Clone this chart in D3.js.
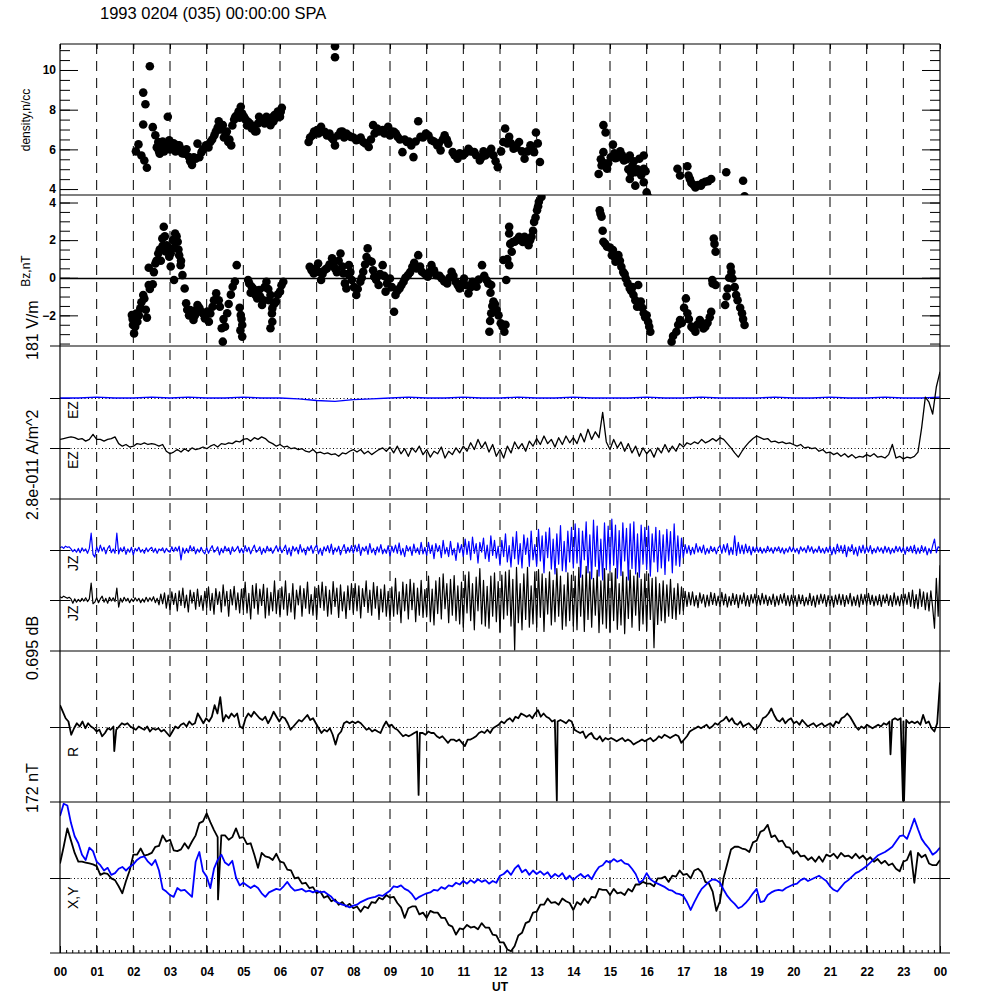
<!DOCTYPE html>
<html>
<head>
<meta charset="utf-8">
<script src="https://cdn.jsdelivr.net/npm/d3@7"></script>
<style>
body { margin: 0; background: #fff; }
text { font-family: "Liberation Sans", Arial, sans-serif; }
</style>
</head>
<body>
<div id="chart"></div>
<script>
// ---- data ----
const title = "1993 0204 (035) 00:00:00 SPA";
const hourTicks = d3.range(0, 25);

// density (n/cc), scatter
const densHours = [2.07,2.14,2.22,2.30,2.37,2.27,2.27,2.33,2.45,2.53,2.94,2.60,2.68,2.76,2.72,2.88,2.98,3.06,3.21,3.29,3.40,3.52,3.60,3.70,3.75,3.86,3.98,4.10,4.21,4.33,4.44,4.52,4.59,4.67,4.78,4.87,4.93,5.02,5.13,5.23,5.36,5.43,5.54,5.63,5.74,5.85,5.94,6.05,6.00,
  6.78,6.89,7.01,7.12,7.22,7.35,7.50,7.50,7.50,7.65,7.81,7.93,8.08,8.27,8.42,8.54,8.65,8.80,8.95,9.11,9.21,9.34,9.46,9.64,9.77,9.83,9.98,10.13,10.29,10.38,10.49,10.59,
  10.71,10.84,10.99,11.14,11.30,11.45,11.60,11.76,11.94,12.09,12.14,12.25,12.37,12.52,12.67,12.83,12.98,13.09,12.93,
  14.82,14.88,15.08,14.82,14.77,14.69,14.92,15.15,15.28,15.38,15.54,15.61,15.69,15.80,15.92,15.92,15.54,15.69,15.92,16.00,16.03,
  16.84,16.91,17.11,17.14,17.22,17.33,17.48,17.60,17.76,18.17,18.63,18.67,
  2.64,2.70,2.80,2.84,2.92,3.00,3.10,3.15,3.25,3.33,3.45,3.55,3.65,3.80,3.90,4.05,4.15,
  4.25,4.30,4.38,4.47,4.55,4.62,4.70,4.75,4.82,4.90,4.97,5.06,5.10,5.18,5.28,5.32,5.40,5.48,5.58,5.68,5.78,5.82,5.90,5.98,6.02,
  6.82,6.93,7.05,7.16,7.28,7.40,7.45,7.58,7.70,7.75,7.87,8.00,8.12,8.20,8.33,8.48,8.58,8.70,8.85,9.00,9.05,9.16,9.27,9.40,9.52,9.58,9.70,9.90,10.05,10.20,10.33,10.44,10.55,
  10.76,10.90,11.05,11.20,11.35,11.50,11.55,11.68,11.82,11.88,12.03,12.20,12.30,12.45,12.60,12.75,12.88,13.03,
  14.75,14.85,14.95,15.02,15.12,15.22,15.33,15.45,15.50,15.58,15.65,15.75,15.85,15.97,
  17.18,17.28,17.40,17.52,17.68];
const densValues = [5.90,6.25,5.69,5.44,5.07,7.25,8.86,8.27,10.19,7.12,7.64,6.71,6.37,6.20,5.78,6.20,6.46,6.12,6.20,6.03,5.78,5.61,5.22,5.53,6.29,5.86,6.20,6.37,6.71,7.42,7.22,6.80,6.37,6.20,7.64,7.90,8.15,7.64,7.39,7.05,6.92,7.64,7.47,7.64,7.22,7.73,7.90,8.10,7.64,
  6.37,6.71,6.97,7.14,6.88,6.80,6.20,10.64,11.20,6.88,6.80,6.63,6.46,6.37,6.12,7.22,7.05,6.97,7.14,6.88,6.63,5.86,6.37,5.61,7.42,6.63,6.80,6.46,6.20,5.95,6.71,6.29,
  5.86,5.53,5.69,6.03,5.86,5.44,5.69,6.03,5.10,6.37,7.05,6.63,6.03,6.37,5.53,6.20,6.85,5.36,5.86,
  7.22,6.85,6.24,5.86,5.19,4.76,5.02,5.56,5.90,5.44,5.69,5.19,4.85,5.53,5.69,5.02,4.51,4.17,4.34,3.83,3.63,
  5.02,4.68,5.15,4.68,4.31,4.08,4.17,4.37,4.51,4.85,4.42,3.63,
  6.1,5.9,6.4,5.9,6.3,6.0,6.3,5.9,6.2,5.8,6.0,5.4,5.6,5.6,6.0,6.1,6.5,
  6.9,7.1,7.0,6.6,6.9,6.5,7.2,7.5,7.7,7.6,7.8,7.5,7.2,7.3,7.1,6.9,7.3,7.5,7.3,7.4,7.6,7.4,7.6,7.8,7.9,
  6.6,6.9,6.8,6.9,6.7,6.6,6.5,6.7,6.9,6.6,6.7,6.6,6.5,6.6,6.3,6.5,6.8,6.9,6.8,6.7,6.9,6.8,6.5,6.5,6.4,6.2,6.4,6.6,6.7,6.4,6.3,6.5,6.5,
  5.7,5.8,5.8,5.9,5.7,5.6,5.9,5.8,5.7,5.4,5.9,6.3,6.3,6.1,5.9,5.9,6.0,6.3,
  5.5,5.3,5.3,5.6,5.8,5.6,5.7,5.5,5.0,4.8,5.4,5.0,4.7,4.9,
  4.5,4.2,4.2,4.3,4.4];

// Bz (nT), scatter
const bzHours = [1.96,1.99,2.02,2.11,2.19,2.27,2.37,2.42,2.53,2.42,2.60,2.68,2.79,2.83,2.91,2.98,3.14,3.21,3.25,3.29,3.11,3.34,3.40,
  3.44,3.55,3.64,3.75,3.86,3.95,4.06,4.16,4.26,4.36,4.41,4.44,4.56,4.71,4.82,4.93,4.97,4.97,
  5.13,5.23,5.33,5.43,5.51,5.63,5.74,5.79,5.74,5.89,6.00,6.09,5.79,
  6.81,6.92,7.04,7.12,7.22,7.42,7.50,7.65,7.73,7.81,7.88,7.96,8.08,8.19,8.27,8.39,8.50,8.57,8.69,8.80,8.88,9.00,9.11,9.15,9.26,9.37,9.49,9.61,9.77,9.87,10.03,10.13,10.26,
  10.41,10.56,10.68,10.79,10.90,11.02,11.14,11.25,11.36,11.51,11.63,
  11.76,11.82,11.76,11.71,11.91,12.02,12.12,12.17,
  12.09,12.25,12.32,12.25,12.25,12.40,12.52,12.67,12.78,12.86,12.93,13.01,13.06,13.13,
  14.72,14.77,14.82,14.92,15.08,15.15,15.23,15.31,15.43,15.54,15.64,15.74,15.84,15.92,16.04,16.10,15.77,
  16.68,16.81,16.91,17.07,17.11,17.22,17.33,17.45,17.60,17.76,17.83,17.88,17.79,17.88,18.14,18.21,18.29,18.34,18.44,18.60,18.67,
  1.98,2.05,2.08,2.15,2.22,2.30,2.34,2.45,
  2.56,2.63,2.72,2.75,2.80,2.86,2.88,2.95,3.02,3.08,3.12,3.18,3.23,3.30,3.02,
  3.47,3.52,3.60,3.68,3.72,3.80,3.90,3.98,4.02,4.10,4.20,
  4.33,4.46,4.50,4.60,4.66,4.77,4.90,4.95,4.92,
  5.16,5.20,5.28,5.38,5.46,5.55,5.58,5.68,5.70,5.78,5.84,5.94,6.04,
  6.86,6.98,7.08,7.16,7.28,7.35,7.46,7.55,7.60,7.70,7.77,7.85,7.92,8.02,8.12,8.23,8.32,8.36,8.44,8.54,8.62,8.73,8.84,8.92,9.05,9.20,9.31,9.42,9.55,9.66,9.72,9.82,9.95,10.08,10.20,
  10.35,10.48,10.62,10.73,10.85,10.96,11.08,11.20,11.30,11.42,11.57,11.68,
  11.74,11.79,11.73,11.86,11.96,12.07,12.15,
  12.20,12.28,12.35,12.45,12.58,12.62,12.72,12.82,12.90,12.97,13.04,
  14.74,14.80,14.87,15.00,15.05,15.12,15.20,15.27,15.36,15.40,15.48,15.58,15.61,15.69,15.80,15.88,15.96,16.00,16.07,
  16.72,16.86,16.96,17.02,17.15,17.27,17.38,17.50,17.55,17.66,17.72,
  17.85,17.80,18.18,18.25,18.31,18.40,18.48,18.55,18.63];
const bzValues = [-1.98,-2.51,-2.96,-2.34,-1.63,-0.92,-2.12,-0.39,-0.35,0.53,0.76,1.29,2.09,2.71,1.73,1.12,2.35,1.91,1.20,0.67,-0.12,0.14,-0.57,
  -1.36,-1.72,-2.25,-1.45,-1.81,-2.16,-2.34,-1.54,-0.83,-1.54,-2.69,-3.40,-1.89,-0.48,0.67,-1.98,-2.51,-3.13,
  -0.12,-0.48,-0.92,-0.65,-1.45,-0.21,-0.92,-1.63,-2.69,-1.27,-0.74,-0.21,-2.34,
  0.58,0.23,0.76,-0.12,0.41,1.03,0.50,1.29,0.23,-0.57,0.67,-0.12,-0.92,-0.21,0.32,1.56,0.85,0.05,-0.39,0.67,-0.74,-0.04,-1.81,-0.92,-0.57,-0.21,0.14,0.58,1.20,0.32,0.05,0.67,0.14,
  -0.04,-0.30,0.32,-0.21,-0.57,-0.04,-0.83,-0.21,-0.48,0.67,-0.12,
  -0.39,-1.27,-1.89,-2.87,-1.72,-2.42,-2.87,-0.12,
  0.94,0.67,1.38,2.35,2.71,1.91,2.18,2.18,1.73,2.18,2.97,3.59,4.04,4.30,
  3.59,3.24,1.91,1.65,1.47,0.85,1.20,0.58,-0.04,-0.57,-0.92,-1.54,-1.27,-1.89,-2.34,-2.87,-0.39,
  -3.40,-2.87,-2.25,-1.10,-1.89,-2.60,-2.87,-2.25,-2.60,-1.81,2.09,1.38,-0.12,-0.39,-1.45,-0.57,0.58,-0.04,-0.92,-1.89,-2.51,
  -2.2,-2.6,-1.9,-2.0,-1.3,-1.1,-1.7,-0.6,
  0.3,0.9,1.5,0.9,1.7,2.2,1.4,1.6,1.3,2.0,1.6,2.2,1.5,0.9,0.6,
  -1.7,-2.0,-1.8,-2.0,-1.7,-1.6,-1.9,-2.0,-1.8,-1.9,-1.2,
  -1.2,-2.2,-2.6,-1.4,-0.9,-0.2,-1.6,-2.2,-2.8,
  -0.3,-0.8,-0.6,-1.1,-1.0,-1.2,-0.5,-0.6,-1.2,-1.9,-1.4,-0.9,-0.4,
  0.4,0.5,0.3,0.2,0.5,0.7,0.8,0.3,0.9,0.6,-0.3,0.2,0.3,-0.5,-0.6,0.0,0.7,1.1,0.9,0.4,-0.1,0.2,0.1,-0.3,-0.5,-0.7,-0.4,0.0,0.3,0.8,0.5,0.6,0.2,0.3,0.4,
  0.1,-0.2,0.0,0.1,-0.4,-0.3,-0.4,-0.5,-0.3,-0.1,0.1,-0.3,
  -0.8,-1.5,-2.3,-1.4,-2.0,-2.6,-2.5,
  1.0,1.8,1.9,2.0,2.1,1.9,2.0,2.0,2.5,3.2,3.8,
  3.4,2.5,1.8,1.6,1.2,1.1,0.9,0.9,0.3,0.2,-0.3,-0.7,-0.5,-1.2,-1.5,-1.6,-2.1,-2.0,-2.6,
  -3.1,-2.5,-2.4,-1.6,-2.2,-2.7,-2.5,-2.4,-2.7,-2.4,-2.1,
  1.8,-0.3,-1.0,0.0,0.3,-0.5,-1.2,-1.6,-2.2];

// EZ (V/m), deviations from each trace's baseline; black every 0.1 h, blue every 0.5 h
const ezBlack = [10,11,12,13,12,10,11,8,10,16,10,
  10,8,10,11,13,5,2,4,1,2, 5,4,6,4,5,4,2,4,-4,-7, -5,-2,-5,-1,-4,0,-2,-1,1,-1, 2,4,1,5,4,6,5,8,7,10,
  11,8,12,10,13,11,7,5,2,4, 1,2,-1,0,-2,-1,-4,-5,-2,-6, -5,-7,-6,-8,-7,-10,-6,-7,-4,-2, -5,-2,-7,-4,-8,-5,-2,0,-4,1,
  -6,2,-7,-1,-10,0,-5,2,-8,-2, -11,-4,-7,1,-12,-4,-8,0,-6,2, -4,6,-2,10,0,7,-5,4,-10,-2, -12,2,-6,7,-1,5,-4,8,2,11,
  4,14,5,10,1,12,4,14,6,12, 5,17,7,22,10,19,12,42,7,-2, 10,0,7,-4,5,-6,2,-10,0,-7, -2,-11,0,-6,4,-5,2,-4,5,1,
  6,4,7,5,10,6,8,11,8,12, 10,5,0,-6,-11,-4,2,7,11,14, 12,10,11,7,8,6,7,5,6,4, 2,4,0,1,-1,0,-4,-2,-6,-5,
  -8,-6,-10,-7,-11,-8,-12,-10,-11,-8, -10,-7,-11,-10,-12,-8,4,-12,-10,-13, -11,-12,-10,-5,24,60,54,40,72,90];
const ezBlue = [0,0,1,0,0,1,0,1,0,0,1,0,0,-1,-3,-4,-2,-1,0,1,0,0,1,0,0,1,0,0,1,0,0,0,1,0,0,1,0,0,0,1,0,0,1,0,0,1,0,0,1];

// JZ (1e-13 A/m^2), deviations, every 0.05 h
const jzBlue = [
  4,6,3,7,5,6,2,-3,1,-4,3,-5,4,-2,2,-6,3,31,-8,-13,
  6,-4,9,-2,5,-7,3,8,-5,2,-6,31,-7,4,-3,6,-8,2,-4,5,
  -9,3,-2,5,-4,1,-6,4,-3,2,5,-4,3,-6,2,-1,4,-5,3,-2,
  -4,6,-3,5,-2,7,-18,4,-6,3,-5,8,-2,6,-7,2,-4,5,-3,-7,
  5,-6,2,8,-4,-1,6,-9,3,-5,7,-2,4,-8,6,-3,1,7,-5,3,
  -6,8,-3,5,-7,2,9,-4,-1,6,-8,3,-5,7,-2,4,-6,1,8,-3,
  6,-5,2,9,-8,4,-11,7,-2,5,-7,10,-4,3,-9,6,-1,8,-6,4,
  9,-7,3,-10,6,-2,8,-5,11,-8,4,-3,7,-9,2,10,-6,5,-4,8,
  -6,9,-3,11,-10,5,-2,7,-8,12,-5,3,-9,6,-4,10,-7,2,-6,8,
  -11,7,-4,9,-6,13,-9,3,-12,8,-2,6,-10,11,-5,4,-8,14,-7,5,
  -10,14,-6,9,-16,12,-3,8,-14,18,-7,5,-12,16,-9,3,-19,13,-5,10,
  -12,20,-8,16,-18,24,-6,12,-24,14,-4,22,-16,9,-21,26,-10,18,-15,7,
  -28,18,-12,30,-22,8,-31,24,-16,34,-26,12,-33,28,-8,22,-30,35,-18,10,
  -30,38,-20,26,-42,33,-14,41,-35,20,-44,30,-26,45,-38,16,-40,35,-22,42,
  -33,48,-24,40,-50,35,-18,52,-42,28,-53,55,-30,44,-48,20,-55,50,-36,44,
  -38,57,-28,46,-52,36,-47,50,-20,40,-55,48,-34,52,-44,30,-50,46,-26,42,
  -36,44,-48,30,-22,42,-40,36,-33,28,-45,38,-20,34,-42,48,-28,26,-30,22,
  -14,10,-6,8,-9,5,-7,12,-4,6,-5,9,-8,3,-6,7,-3,5,-7,4,
  8,-6,10,-4,12,-9,5,-8,26,-10,14,-6,9,-7,11,-5,7,-9,6,-4,
  6,-4,5,-6,3,-5,7,-3,4,-6,5,-2,6,-5,4,-7,3,-4,6,-3,
  5,-4,3,-7,6,-2,4,-5,8,-3,6,-6,2,-4,7,-5,3,-6,5,-4,
  7,-9,5,-7,11,-4,8,-6,9,-12,6,-3,10,-8,5,-11,7,-5,9,-6,
  6,-4,8,-7,3,-5,6,-3,4,-6,7,-4,5,-7,3,-5,7,-3,6,-4,
  5,-8,6,-3,7,-5,9,-7,4,-6,8,-4,6,-9,3,-6,8,20,-5,6,
  4];
const jzBlack = [
  6,4,7,5,3,5,2,-6,2,-4,1,-3,3,-2,4,-3,2,31,-7,-4,
  4,-5,2,7,-4,3,-6,5,-2,4,-3,22,-13,3,-4,5,-2,3,-5,2,
  -3,4,-2,3,-5,2,-4,5,-3,4,-2,6,-5,3,-9,11,-7,13,-15,9,
  -18,15,-8,12,-20,17,-10,22,-14,9,-22,18,-6,14,-17,20,-12,8,-19,16,
  -14,24,-19,12,-26,21,-8,15,-22,28,-11,16,-30,19,-9,25,-18,13,-24,20,
  -18,33,-24,12,-35,27,-15,30,-26,20,-10,29,-33,22,-28,14,-20,35,-25,18,
  -31,24,-17,35,-28,12,-22,30,-35,18,-9,26,-30,21,-15,33,-25,10,-28,24,
  -36,27,-14,33,-19,25,-30,18,-26,34,-12,22,-32,28,-20,15,-34,26,-18,30,
  -24,30,-20,26,-33,21,-12,35,-23,18,-28,32,-15,25,-36,20,-22,28,-30,16,
  -38,24,-30,40,-26,15,-42,33,-20,29,-35,38,-18,31,-40,22,-28,36,-32,19,
  -31,44,-40,20,-46,35,-25,41,-35,48,-16,30,-42,38,-28,45,-38,26,-44,33,
  -50,46,-24,52,-38,30,-55,42,-20,58,-44,36,-48,25,-52,44,-30,50,-40,34,
  -60,46,-35,52,-28,55,-48,38,-92,60,-42,30,-55,48,-36,60,-50,26,-44,52,
  -50,56,-32,48,-58,40,-26,52,-46,36,-40,58,-30,44,-54,28,-48,50,-38,46,
  -48,44,-55,60,-30,46,-58,62,-36,52,-50,40,-28,55,-60,35,-44,58,-52,48,
  -60,50,-38,58,-54,30,-46,52,-62,42,-34,55,-50,44,-28,50,-56,38,-44,48,
  -56,48,-36,40,-88,42,-45,30,-38,35,-42,28,-30,38,-34,22,-36,30,-26,24,
  -20,16,-12,14,-9,15,-11,8,-14,13,-6,10,-13,9,-11,14,-8,12,-10,7,
  -12,14,-9,11,-13,6,-10,12,-8,10,-14,9,-7,13,-11,8,-12,10,-6,11,
  -11,8,-9,12,-7,9,-10,6,-8,11,-12,7,-9,10,-6,12,-10,8,-11,9,
  -9,8,-12,10,-7,9,-11,5,-9,12,-10,7,-13,9,-8,11,-6,10,-12,8,
  -10,7,-13,9,-8,11,-9,10,-12,8,-7,12,-11,6,-10,9,-13,11,-8,10,
  -10,12,-8,9,-11,7,-9,10,-12,9,-6,11,-10,8,-12,13,-9,7,-11,10,
  -10,11,-8,14,-12,18,-15,10,-16,20,-12,15,-18,13,-20,17,-14,-52,40,-30,
  64];

// R (mdB), deviations, evenly sampled over the day, plus narrow spikes
const rValues = [98,68,38,23,-38,-8,15,0,23,-8, 15,0,-8,-23,-15,-45,-30,-8,-15,0, -15,0,15,8,15,0,-8,-15,0,-8, -15,0,-23,-8,-15,-8,-23,-15,-30,-45,
  -23,0,-8,8,15,0,23,8,15,60, 38,15,38,23,45,98,60,135,23,53, 38,60,45,60,0,-8,38,60,45,68, 53,38,30,45,15,38,68,45,23,45,
  38,15,-15,0,15,30,23,38,53,30, 38,15,-8,-30,-15,-23,-8,-38,-83,-38, -23,15,23,15,23,15,23,15,0,-15, -8,-23,-15,-23,-30,0,23,0,8,-8,
  -15,-30,-45,-38,-45,-38,-30,-23,-30,-30, -38,-23,-30,-30,-45,-53,-45,-60,-75,-60, -60,-68,-60,-75,-90,-60,-60,-53,-45,-30, -23,-30,-15,-30,-8,0,8,23,15,30,
  38,23,45,38,60,53,45,53,38,60, 75,45,60,45,38,23,30,23,30,23, 15,30,23,-15,-23,-30,-23,-53,-38,-30, -53,-60,-45,-68,-53,-60,-53,-60,-68,-60,
  -53,-68,-60,-68,-83,-75,-68,-60,-68,-60, -53,-68,-60,-45,-53,-38,-45,-53,-45,-38, -45,-75,-60,-45,-23,-15,-8,0,-8,0, 8,-8,0,15,8,23,30,45,23,38,
  15,8,23,0,8,15,0,-15,-8,8, 38,45,60,83,53,30,23,38,15,30, 38,15,23,8,30,15,0,8,15,0, 8,15,0,8,15,0,23,15,38,45,
  60,45,23,0,-15,0,-8,8,0,-8, 0,8,0,15,8,23,30,38,30,38, 23,30,15,23,15,23,8,53,15,23, -8,-23,15,203];
const rSpikeHours = [1.48, 9.78, 13.55, 22.65, 22.99, 23.02];
const rSpikeValues = [-113, -315, -341, -128, -341, -341];

// X and Y (nT) every 0.1 h, X with one narrow spike
const xValues = [16,35,56,42,28,18,18,17,16,15, 13,3,5,4,-1,-3,-10,-18,-4,8,
  26,26,33,25,26,28,35,36,48,41, 43,31,30,32,39,33,41,48,62,64,
  73,63,54,46,48,48,43,46,56,45, 46,38,39,26,11,28,24,23,20,27,
  18,17,9,8,-1,0,-7,-6,-12,-11, -18,-16,-23,-21,-27,-25,-31,-28,-33,-30,
  -35,-33,-39,-33,-35,-28,-29,-23,-25,-20, -23,-22,-29,-34,-46,-35,-33,-33,-42,-40,
  -46,-38,-40,-40,-46,-46,-54,-56,-65,-58, -59,-54,-57,-56,-59,-52,-57,-57,-65,-66,
  -74,-74,-82,-84,-78,-66,-63,-52,-50,-40, -39,-31,-31,-24,-29,-28,-31,-24,-27,-29,
  -37,-28,-31,-24,-29,-22,-23,-13,-14,-14, -20,-13,-18,-17,-20,-13,-16,-8,-8,-5,
  -7,-7,-10,-1,-1,1,-5,2,1,8, 3,4,-1,8,10,6,-5,-7,-16,-38,
  -27,0,16,32,35,35,33,32,29,40, 42,52,54,60,46,48,41,42,35,34,
  27,30,24,25,20,23,18,24,18,26, 24,27,22,28,24,25,22,27,22,25,
  20,23,18,21,16,19,14,16,10,7, 18,20,30,-6,28,23,26,16,14,14,
  20];
const xSpikeHours = [4.31];
const xSpikeValues = [-25];
const yValues = [70,84,82,62,47,39,26,20,34,30, 18,14,8,11,3,5,10,12,8,12,
  15,20,23,24,18,14,20,8,-13,-16, -20,-22,-12,-15,-14,-18,-22,18,29,7,
  1,-12,10,20,26,17,14,19,0,-9, -6,-9,-12,-9,-12,-18,-22,-17,-15,-13,
  -14,-10,-5,-11,-15,-14,-13,-16,-15,-17, -15,-17,-16,-19,-22,-27,-29,-31,-32,-34,
  -32,-31,-28,-26,-24,-23,-22,-20,-21,-18, -15,-10,-11,-9,-13,-15,-19,-25,-22,-20,
  -18,-17,-14,-15,-11,-13,-9,-10,-6,-8, -4,-7,-3,-6,-2,-5,-3,-7,-4,-6,
  2,4,8,3,10,14,6,9,3,8, 4,7,3,6,0,4,1,5,-2,2,
  -3,1,4,0,3,-2,6,12,14,19, 17,21,18,20,16,15,10,4,-6,-3,
  5,-2,-5,-7,-9,-11,-14,-15,-18,-19, -21,-28,-37,-28,-20,-13,-9,-5,-2,-3,
  -6,-14,-21,-26,-30,-35,-33,-29,-24,-18, -13,-28,-27,-20,-17,-15,-14,-15,-12,-10,
  -8,-7,-3,-1,-4,-2,0,2,-1,-4, -10,-14,-16,-11,-6,-3,1,5,7,10,
  13,17,21,25,27,29,32,35,41,47, 48,44,55,67,55,44,38,33,26,29,
  34];

// ---- drawing ----
const width = 1000, height = 1000;
const left = 60, right = 940;

const svg = d3.select("#chart").append("svg")
  .attr("width", width).attr("height", height);
svg.append("rect").attr("width", width).attr("height", height).attr("fill", "#fff");

const x = d3.scaleLinear([0, 24], [left, right]);

const panels = [
  { top: 44, bottom: 195 }, { top: 195, bottom: 346 }, { top: 346, bottom: 499 },
  { top: 499, bottom: 651 }, { top: 651, bottom: 802 }, { top: 802, bottom: 953 }
];
const yDens = d3.scaleLinear([3.70, 11.31], [195, 44]);
const yBz = d3.scaleLinear([-3.63, 4.40], [346, 195]);
const yEz = d3.scaleLinear([-90.5, 90.5], [499, 346]);
const yJz = d3.scaleLinear([-140, 140], [651, 499]);
const yR = d3.scaleLinear([-347.5, 347.5], [802, 651]);
const yXY = d3.scaleLinear([-86, 86], [953, 802]);

const defs = svg.append("defs");
panels.forEach((p, i) => {
  defs.append("clipPath").attr("id", "clip" + i)
    .append("rect").attr("x", left).attr("y", p.top)
    .attr("width", right - left).attr("height", p.bottom - p.top);
});

// hourly dashed guides
svg.append("g").selectAll("line")
  .data(d3.range(1, 24))
  .join("line")
  .attr("x1", d => x(d)).attr("x2", d => x(d))
  .attr("y1", 44).attr("y2", 953)
  .attr("stroke", "#000").attr("stroke-width", 1)
  .attr("stroke-dasharray", "10,7");

// baselines for the trace panels
const baselines = [
  { y: yEz, v: 29 }, { y: yEz, v: -30 },
  { y: yJz, v: 46 }, { y: yJz, v: -46 },
  { y: yR, v: 0 }, { y: yXY, v: 0 }
];
baselines.forEach(b => {
  const yy = Math.round(b.y(b.v)) + 0.5;
  svg.append("line").attr("x1", left).attr("x2", right).attr("y1", yy).attr("y2", yy)
    .attr("stroke", "#000").attr("stroke-dasharray", "1,2.5");
  svg.append("line").attr("x1", 50).attr("x2", 70).attr("y1", yy).attr("y2", yy).attr("stroke", "#000");
  svg.append("line").attr("x1", 930).attr("x2", 950).attr("y1", yy).attr("y2", yy).attr("stroke", "#000");
});

// Bz zero line
svg.append("line").attr("x1", left).attr("x2", right)
  .attr("y1", Math.round(yBz(0)) + 0.5).attr("y2", Math.round(yBz(0)) + 0.5)
  .attr("stroke", "#000").attr("stroke-width", 1.3);

// scatter panels
const densPts = densHours.map((h, i) => [h, densValues[i]]);
svg.append("g").attr("clip-path", "url(#clip0)")
  .selectAll("circle").data(densPts).join("circle")
  .attr("cx", d => x(d[0])).attr("cy", d => yDens(d[1])).attr("r", 4.3).attr("fill", "#000");

const bzPts = bzHours.map((h, i) => [h, bzValues[i]]);
svg.append("g").attr("clip-path", "url(#clip1)")
  .selectAll("circle").data(bzPts).join("circle")
  .attr("cx", d => x(d[0])).attr("cy", d => yBz(d[1])).attr("r", 4.3).attr("fill", "#000");

// line traces
function even(values) {
  return values.map((v, i) => [i * 24 / (values.length - 1), v]);
}
function withSpikes(pts, hours, values) {
  return pts.concat(hours.map((h, i) => [h, values[i]])).sort((a, b) => a[0] - b[0]);
}
function trace(pts, yScale, offset, clip, color, w) {
  const line = d3.line().x(d => x(d[0])).y(d => yScale(d[1] + offset));
  svg.append("path").attr("clip-path", `url(#clip${clip})`)
    .attr("d", line(pts)).attr("fill", "none")
    .attr("stroke", color).attr("stroke-width", w).attr("stroke-linejoin", "round");
}

trace(even(ezBlue), yEz, 29, 2, "#0000ff", 1.3);
trace(even(ezBlack), yEz, -30, 2, "#000", 1.3);
trace(even(jzBlue), yJz, 46, 3, "#0000ff", 1.2);
trace(even(jzBlack), yJz, -46, 3, "#000", 1.2);
trace(withSpikes(even(rValues), rSpikeHours, rSpikeValues), yR, 0, 4, "#000", 1.8);
trace(withSpikes(even(xValues), xSpikeHours, xSpikeValues), yXY, 0, 5, "#000", 1.8);
trace(even(yValues), yXY, 0, 5, "#0000ff", 1.8);

// axes
function clean(g) { g.select(".domain").remove(); }
const tickFont = g => g.selectAll("text")
  .attr("font-size", 12).attr("font-weight", "bold").attr("fill", "#000")
  .attr("font-family", '"Liberation Sans", Arial, sans-serif');

svg.append("g").attr("transform", `translate(${left},0)`)
  .call(d3.axisLeft(yDens).tickValues([4, 6, 8, 10]).tickSize(-18).tickPadding(4).tickFormat(d3.format("d")))
  .call(clean).call(tickFont);
svg.append("g").attr("transform", `translate(${left},0)`)
  .call(d3.axisLeft(yDens).tickValues(d3.range(4, 11.5, 0.5)).tickSize(-10).tickFormat(""))
  .call(clean);
svg.append("g").attr("transform", `translate(${right},0)`)
  .call(d3.axisRight(yDens).tickValues([4, 6, 8, 10]).tickSize(-18).tickFormat(""))
  .call(clean);
svg.append("g").attr("transform", `translate(${right},0)`)
  .call(d3.axisRight(yDens).tickValues(d3.range(4, 11.5, 0.5)).tickSize(-10).tickFormat(""))
  .call(clean);

svg.append("g").attr("transform", `translate(${left},0)`)
  .call(d3.axisLeft(yBz).tickValues([-2, 0, 2, 4]).tickSize(-18).tickPadding(4).tickFormat(d3.format("d")))
  .call(clean).call(tickFont);
svg.append("g").attr("transform", `translate(${left},0)`)
  .call(d3.axisLeft(yBz).tickValues(d3.range(-3.5, 4.5, 0.5)).tickSize(-10).tickFormat(""))
  .call(clean);
svg.append("g").attr("transform", `translate(${right},0)`)
  .call(d3.axisRight(yBz).tickValues([-2, 0, 2, 4]).tickSize(-18).tickFormat(""))
  .call(clean);
svg.append("g").attr("transform", `translate(${right},0)`)
  .call(d3.axisRight(yBz).tickValues(d3.range(-3.5, 4.5, 0.5)).tickSize(-10).tickFormat(""))
  .call(clean);

// time axes
svg.append("g").attr("transform", "translate(0,44)")
  .call(d3.axisTop(x).tickValues(hourTicks).tickSize(-5).tickFormat(""))
  .call(clean);
svg.append("g").attr("transform", "translate(0,953)")
  .call(d3.axisBottom(x).tickValues(hourTicks).tickSize(-7).tickPadding(14)
    .tickFormat(h => d3.format("02d")(h % 24)))
  .call(clean).call(tickFont);
svg.append("g").attr("transform", "translate(0,953)")
  .call(d3.axisBottom(x).tickValues(d3.range(0, 24.01, 1 / 6)).tickSize(-3).tickFormat(""))
  .call(clean);

// frame
const frame = svg.append("g").attr("stroke", "#000").attr("stroke-width", 1.2);
frame.append("line").attr("x1", left).attr("x2", left).attr("y1", 44).attr("y2", 953);
frame.append("line").attr("x1", right).attr("x2", right).attr("y1", 44).attr("y2", 953);
frame.append("line").attr("x1", left).attr("x2", right).attr("y1", 44).attr("y2", 44);
frame.append("line").attr("x1", left).attr("x2", right).attr("y1", 195).attr("y2", 195);
[346, 499, 651, 802, 953].forEach(yy => {
  frame.append("line").attr("x1", 50).attr("x2", 950).attr("y1", yy).attr("y2", yy);
});

// texts
svg.append("text").attr("x", 100).attr("y", 19).attr("font-size", 16.5).text(title);
svg.append("text").attr("x", 500).attr("y", 991).attr("text-anchor", "middle")
  .attr("font-size", 12).attr("font-weight", "bold").text("UT");

function vtext(tx, ty, str, size, anchor) {
  svg.append("text").attr("transform", `translate(${tx},${ty}) rotate(-90)`)
    .attr("text-anchor", anchor).attr("font-size", size).text(str);
}
vtext(30, 120, "density,n/cc", 12, "middle");
vtext(30, 271, "Bz,nT", 12, "middle");
vtext(38, 360, "181 V/m", 16, "start");
vtext(38, 520, "2.8e-011 A/m^2", 16, "start");
vtext(38, 680, "0.695 dB", 16, "start");
vtext(38, 813, "172 nT", 16, "start");
vtext(78, 419, "EZ", 14, "start");
vtext(78, 469, "EZ", 14, "start");
vtext(78, 571, "JZ", 14, "start");
vtext(78, 621, "JZ", 14, "start");
vtext(78, 757, "R", 14, "start");
vtext(78, 909, "X,Y", 14, "start");
</script>
</body>
</html>
